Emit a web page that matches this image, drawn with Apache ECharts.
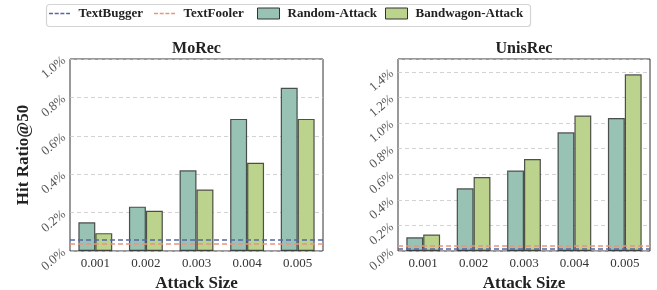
<!DOCTYPE html>
<html>
<head>
<meta charset="utf-8">
<script src="https://cdn.jsdelivr.net/npm/echarts@6/dist/echarts.min.js"></script>
<style>
  html, body { margin: 0; padding: 0; background: #fff; }
  #chart { width: 657px; height: 290px; }
</style>
</head>
<body>
<div id="chart"></div>
<script>
const attackSizes = ['0.001', '0.002', '0.003', '0.004', '0.005']

// values in percent
const moRecRandom    = [0.150, 0.231, 0.420, 0.688, 0.850]
const moRecBandwagon = [0.093, 0.210, 0.320, 0.460, 0.688]
const moRecTextBugger = 0.062
const moRecTextFooler = 0.043

const unisRecRandom    = [0.107, 0.490, 0.628, 0.927, 1.039]
const unisRecBandwagon = [0.128, 0.578, 0.719, 1.058, 1.380]
const unisRecTextBugger = 0.021
const unisRecTextFooler = 0.039

const panelTitles = ['MoRec', 'UnisRec']
const yMax = [1.0, 1.5]
const legendNames = ['TextBugger', 'TextFooler', 'Random-Attack', 'Bandwagon-Attack']

const FONT = 'Liberation Serif'
const C_RANDOM = '#98c3b4'
const C_BAND = '#bcd38e'
const C_BUGGER = '#5566a8'
const C_FOOLER = '#e8957c'

const chart = echarts.init(document.getElementById('chart'), null, { renderer: 'canvas' })

const grids = [
  { left: 70, top: 59, width: 253, height: 192 },
  { left: 398, top: 59, width: 252, height: 192 },
]

const barSeries = (name, data, color, idx) => ({
  name, type: 'bar', data,
  xAxisIndex: idx, yAxisIndex: idx,
  barGap: '0%', barCategoryGap: '33%',
  itemStyle: { color, borderColor: 'rgba(30,30,30,0.75)', borderWidth: 1.2 },
  emphasis: { disabled: true },
})

const refLine = (name, value, color, idx) => ({
  name, type: 'line', data: [],
  xAxisIndex: idx, yAxisIndex: idx,
  itemStyle: { color },
  lineStyle: { color, type: [5, 3], width: 1.5 },
  markLine: {
    symbol: 'none', silent: true, label: { show: false },
    lineStyle: { color, type: [5, 3], width: 1.5 },
    data: [{ yAxis: value }],
  },
})

// dashed line icon; the tiny corner specks keep the bounding box 21x10
const dashIcon = 'path://M0,0 L0.01,0 L0.01,0.01 Z M0,4.2 L4,4.2 L4,5.8 L0,5.8 Z M5.7,4.2 L9.7,4.2 L9.7,5.8 L5.7,5.8 Z M11.4,4.2 L15.4,4.2 L15.4,5.8 L11.4,5.8 Z M17.1,4.2 L21,4.2 L21,5.8 L17.1,5.8 Z M20.99,9.99 L21,9.99 L21,10 Z'
const legendIcons = [dashIcon, dashIcon, 'rect', 'rect']
const legendColors = [C_BUGGER, C_FOOLER, C_RANDOM, C_BAND]
const legendLeft = [49, 154, 257, 385]

chart.setOption({
  backgroundColor: '#fff',
  animation: false,
  textStyle: { fontFamily: FONT },
  graphic: [{
    type: 'rect', left: 44, top: 2,
    shape: { width: 484, height: 22, r: 3 },
    style: { fill: 'none', stroke: '#d4d4d4', lineWidth: 1.2 },
    silent: true,
  }],
  legend: legendNames.map((n, i) => ({
    top: 7, left: legendLeft[i], padding: 0,
    itemWidth: 22, itemHeight: i < 2 ? 10 : 11,
    selectedMode: false,
    textStyle: { fontFamily: FONT, fontSize: 13, fontWeight: 'bold', color: '#222', padding: [0, 0, 0, 3] },
    data: [{
      name: n, icon: legendIcons[i],
      itemStyle: i < 2 ? { color: legendColors[i], borderWidth: 0 } : { color: legendColors[i], borderColor: '#333', borderWidth: 1 },
    }],
  })),
  title: panelTitles.map((t, i) => ({
    text: t,
    left: grids[i].left + grids[i].width / 2,
    top: 41,
    padding: 0,
    textAlign: 'center',
    textStyle: { fontFamily: FONT, fontSize: 16, fontWeight: 'bold', color: '#222' },
  })),
  grid: grids.map(g => ({ ...g, outerBoundsMode: 'none', show: true, borderColor: '#333', borderWidth: 1, backgroundColor: 'transparent' })),
  xAxis: grids.map((g, i) => ({
    type: 'category', gridIndex: i, data: attackSizes,
    name: 'Attack Size', nameLocation: 'middle', nameGap: 20,
    nameTextStyle: { fontFamily: FONT, fontSize: 17, fontWeight: 'bold', color: '#222' },
    axisLine: { show: false },
    axisTick: { show: false },
    axisLabel: { fontFamily: FONT, fontSize: 13, color: '#333', margin: 6 },
  })),
  yAxis: yMax.map((m, i) => ({
    type: 'value', gridIndex: i, min: 0, max: m, interval: 0.2,
    name: i === 0 ? 'Hit Ratio@50' : '', nameLocation: 'middle', nameRotate: 90, nameGap: 38,
    nameTextStyle: { fontFamily: FONT, fontSize: 17, fontWeight: 'bold', color: '#222' },
    axisLine: { show: false },
    axisTick: { show: false },
    splitLine: { lineStyle: { color: '#c8c8c8', type: [4, 3], width: 0.8 } },
    axisLabel: {
      fontFamily: FONT, fontSize: 13, color: '#555', rotate: 40, margin: 6,
      formatter: v => (Math.round(v * 10) % 2 === 0 ? v.toFixed(1) + '%' : ''),
    },
  })),
  series: [
    barSeries('Random-Attack', moRecRandom, C_RANDOM, 0),
    barSeries('Bandwagon-Attack', moRecBandwagon, C_BAND, 0),
    refLine('TextBugger', moRecTextBugger, C_BUGGER, 0),
    refLine('TextFooler', moRecTextFooler, C_FOOLER, 0),
    barSeries('Random-Attack', unisRecRandom, C_RANDOM, 1),
    barSeries('Bandwagon-Attack', unisRecBandwagon, C_BAND, 1),
    refLine('TextBugger', unisRecTextBugger, C_BUGGER, 1),
    refLine('TextFooler', unisRecTextFooler, C_FOOLER, 1),
  ],
})
</script>
</body>
</html>
